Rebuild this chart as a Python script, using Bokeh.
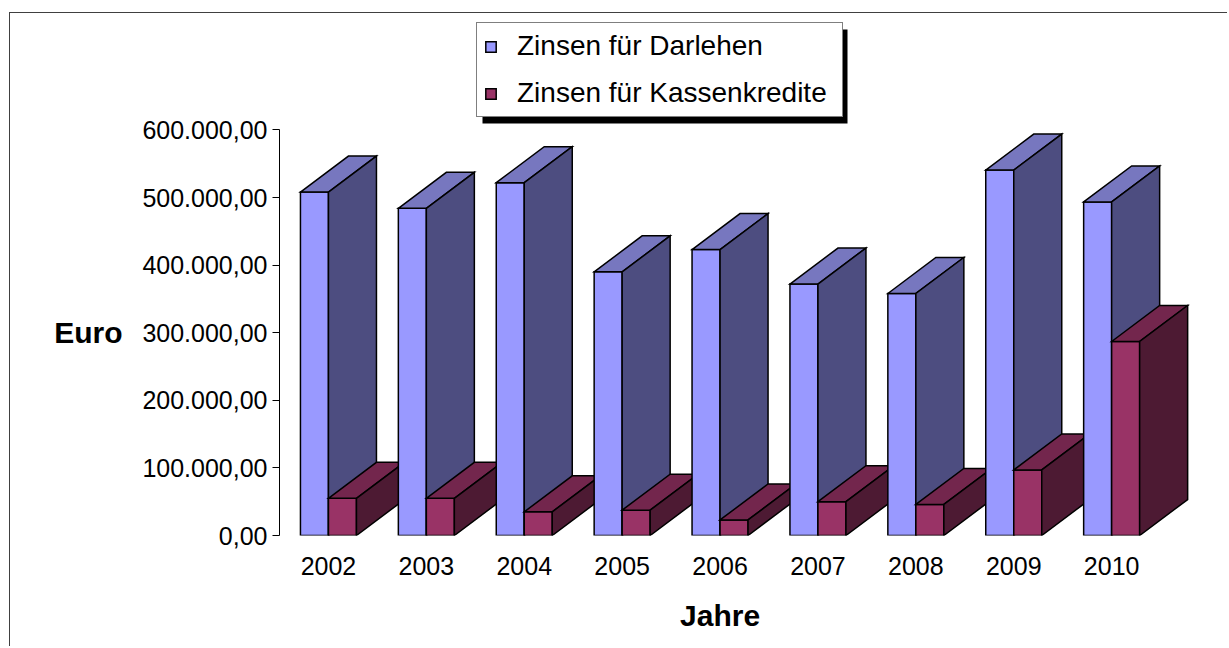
from bokeh.plotting import figure
from bokeh.models import (Range1d, FixedTicker, Legend, LegendItem, LinearAxis,
                          BoxAnnotation, ColumnDataSource)
from bokeh.embed import file_html
from bokeh.resources import INLINE

# ---------------- data ----------------
years = ["2002", "2003", "2004", "2005", "2006", "2007", "2008", "2009", "2010"]
darlehen = [508000, 484000, 522000, 390000, 423000, 372000, 358000, 540500, 493500]
kassenkredite = [55000, 55000, 35000, 37500, 23000, 50000, 46000, 97000, 287000]
series_names = ["Zinsen für Darlehen", "Zinsen für Kassenkredite"]
y_ticks = [0, 100000, 200000, 300000, 400000, 500000, 600000]
y_title = "Euro"
x_title = "Jahre"

# ---------------- layout constants (pixels) ----------------
W, H = 1218, 634
ML, MB = 269, 112
PX_CAT = 97.9          # pixels per category
PX_100K = 67.6         # pixels per 100.000
FW, FH = W - ML, H - MB
FONT = "Liberation Sans"

x_start = -0.5
x_end = x_start + FW / PX_CAT
y_end = FH / PX_100K * 100000


def px_x(px):   # frame-relative pixels -> data x
    return x_start + px / PX_CAT


def px_y(px):   # pixels above frame bottom -> data y
    return px / PX_100K * 100000


bar_w = 28 / PX_CAT
dx = 48 / PX_CAT
dy = px_y(36)

colors = {
    "b_front": "#9999FF", "b_top": "#7777BF", "b_side": "#4D4D80",
    "r_front": "#993366", "r_top": "#73264D", "r_side": "#4D1A33",
}


def box(x0, w, v, pre):
    front = ([x0, x0, x0 + w, x0 + w], [0, v, v, 0])
    top = ([x0, x0 + dx, x0 + w + dx, x0 + w], [v, v + dy, v + dy, v])
    side = ([x0 + w, x0 + w, x0 + w + dx, x0 + w + dx], [0, v, v + dy, dy])
    return [(front, colors[pre + "_front"]), (top, colors[pre + "_top"]),
            (side, colors[pre + "_side"])]


xs, ys, fills = [], [], []
for i, (d, k) in enumerate(zip(darlehen, kassenkredite)):
    faces = box(i - bar_w, bar_w, d, "b") + box(i, bar_w, k, "r")
    for (fx, fy), c in faces:
        xs.append(fx)
        ys.append(fy)
        fills.append(c)

src = ColumnDataSource(dict(xs=xs, ys=ys, fill=fills))

p = figure(width=W, height=H, output_backend="svg", toolbar_location=None,
           x_range=Range1d(x_start, x_end), y_range=Range1d(0, y_end),
           min_border_left=ML, min_border_bottom=MB, min_border_top=0,
           min_border_right=0, background_fill_color="white",
           border_fill_color="white", outline_line_color=None)
p.margin = (12, 0, 0, 9)
p.styles = {"border-top": "1px solid #404040", "border-left": "1px solid #404040"}

r = p.patches("xs", "ys", source=src, fill_color="fill", line_color="black",
              line_width=1.5, line_join="miter")

p.xgrid.grid_line_color = None
p.ygrid.grid_line_color = None


def de_fmt(v):
    s = f"{v:,.2f}"
    return s.replace(",", "X").replace(".", ",").replace("X", ".")


yax = p.yaxis[0]
yax.ticker = FixedTicker(ticks=y_ticks)
yax.major_label_overrides = {t: de_fmt(t) for t in y_ticks}
yax.bounds = (y_ticks[0], y_ticks[-1])
yax.minor_tick_line_color = None
yax.major_tick_in = 0
yax.major_tick_out = 7
yax.major_label_standoff = 5
yax.axis_line_color = "black"
yax.major_tick_line_color = "black"
yax.major_label_text_font = FONT
yax.major_label_text_font_size = "25px"
yax.major_label_text_color = "black"

xax = p.xaxis[0]
xax.ticker = FixedTicker(ticks=list(range(len(years))))
xax.major_label_overrides = {i: y for i, y in enumerate(years)}
xax.axis_line_color = None
xax.major_tick_line_color = None
xax.minor_tick_line_color = None
xax.major_tick_in = 0
xax.major_tick_out = 0
xax.major_label_standoff = 21
xax.major_label_text_font = FONT
xax.major_label_text_font_size = "25px"
xax.major_label_text_color = "black"

# axis titles as outer axes (one labelled tick each)
y_mid = (y_ticks[0] + y_ticks[-1]) / 2
title_y = LinearAxis(ticker=FixedTicker(ticks=[y_mid]),
                     major_label_overrides={y_mid: y_title},
                     axis_line_color=None, major_tick_line_color=None,
                     minor_tick_line_color=None, major_tick_in=0,
                     major_tick_out=0, major_label_standoff=17,
                     major_label_text_font=FONT,
                     major_label_text_font_size="30px",
                     major_label_text_font_style="bold",
                     major_label_text_color="black")
p.add_layout(title_y, "left")

x_mid = (len(years) - 1) / 2
title_x = LinearAxis(ticker=FixedTicker(ticks=[x_mid]),
                     major_label_overrides={x_mid: x_title},
                     axis_line_color=None, major_tick_line_color=None,
                     minor_tick_line_color=None, major_tick_in=0,
                     major_tick_out=0, major_label_standoff=21,
                     major_label_text_font=FONT,
                     major_label_text_font_size="30px",
                     major_label_text_font_style="bold",
                     major_label_text_color="black")
p.add_layout(title_x, "below")

# legend with drop shadow
PAD, GW, STAND, LABW = 7, 13, 20, 318
LX, LY = 197, 418          # frame-relative position of legend's bottom-left
LW, LH = 2 * PAD + GW + STAND + LABW, 94
SH = 6                     # shadow offset
shadow = BoxAnnotation(left=px_x(LX + SH), right=px_x(LX + LW + SH),
                       bottom=px_y(LY - SH), top=px_y(LY + LH - SH),
                       fill_color="black", fill_alpha=1.0, line_color=None)
p.add_layout(shadow)

items = [LegendItem(label=series_names[0], renderers=[r], index=0),
         LegendItem(label=series_names[1], renderers=[r], index=3)]
legend = Legend(items=items, location=(LX, LY), padding=PAD, spacing=15,
                label_height=30, label_width=LABW, glyph_width=GW,
                glyph_height=GW, label_standoff=STAND, label_text_font=FONT,
                label_text_font_size="28px", label_text_color="black",
                border_line_color="black", border_line_width=1,
                background_fill_color="white", background_fill_alpha=1.0,
                margin=0)
p.add_layout(legend, "center")

open("out.html", "w").write(file_html(p, INLINE))
